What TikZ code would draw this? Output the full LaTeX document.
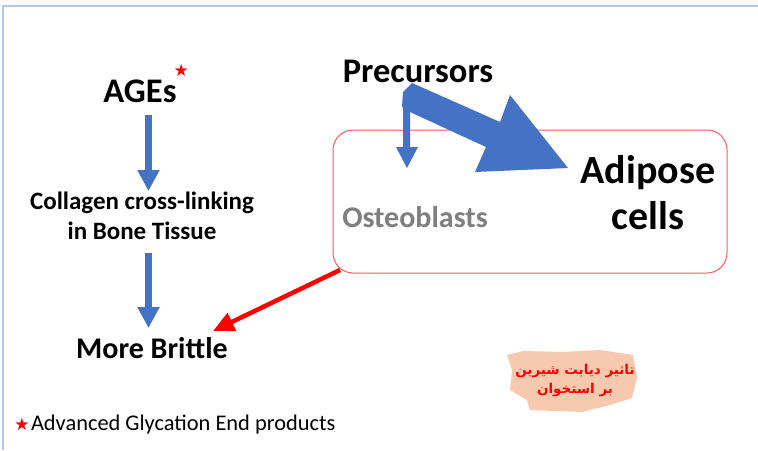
\documentclass[tikz,border=0pt]{standalone}
\usepackage{fontspec}
\setmainfont{Carlito}
\newfontfamily\arabicfont[Script=Arabic]{DejaVu Sans}
\newfontfamily\symfont{DejaVu Sans}
\TeXXeTstate=1
\usetikzlibrary{arrows.meta}
\definecolor{blu}{HTML}{4472C4}
\definecolor{bord}{HTML}{B4C7E7}
\definecolor{boxred}{HTML}{FF5B5B}
\definecolor{peach}{HTML}{F7C9AE}
\definecolor{greytxt}{HTML}{7F7F7F}
\tikzset{
  lbl/.style={inner sep=0pt, outer sep=0pt},
  bluearrow/.style={draw=blu, line width=7pt, -{Triangle[width=21pt,length=21pt]}, fill=blu},
  redarrow/.style={draw=red, line width=4.5pt, -{Triangle[width=19pt,length=21pt]}, fill=red},
  starmark/.style={lbl, text=red, font=\symfont\fontsize{17}{17}\selectfont}
}
\begin{document}
\begin{tikzpicture}[x=1pt,y=-1pt]
\useasboundingbox (0,0) rectangle (758,450);
\fill[white] (0,0) rectangle (758,450);
\draw[bord, line width=1.5pt] (3,450) -- (3,6) -- (758,6);

% left column
\node[lbl, anchor=base, font=\bfseries\fontsize{34.5}{40}\selectfont] (ages) at (140,102) {AGEs};
\node[starmark, anchor=south west] (star1) at ([xshift=-3pt,yshift=3pt]ages.north east) {★};
\node[lbl, align=center, font=\bfseries\fontsize{25}{30}\selectfont] (coll) at (142,216) {Collagen cross-linking\\in Bone Tissue};
\node[lbl, anchor=base, font=\bfseries\fontsize{30}{35}\selectfont] (brittle) at (152,358) {More Brittle};

\coordinate (a1s) at (148.5,115);
\coordinate (a1e) at (148.5,191);
\coordinate (a2s) at (148.5,253);
\coordinate (a2e) at (148.5,328);
\draw[bluearrow] (a1s) -- (a1e);
\draw[bluearrow] (a2s) -- (a2e);

% right box
\node[lbl, draw=boxred, line width=1pt, rounded corners=20pt, minimum width=394pt, minimum height=143pt] (box) at (530,201.5) {};
\node[lbl, anchor=base, font=\bfseries\fontsize{34.5}{40}\selectfont] (prec) at (418,82) {Precursors};
\node[lbl, anchor=base, text=greytxt, font=\bfseries\fontsize{30}{35}\selectfont] (osteo) at (415,227) {Osteoblasts};
\node[lbl, align=center, font=\bfseries\fontsize{40}{46}\selectfont] (adip) at (648,193) {Adipose\\cells};

% big blue arrow and small down arrow
\fill[blu] (403,92) -- (412,83) -- (500,122) -- (510,95) -- (568,168) -- (475,172) -- (486,147) -- (410,112) -- (402,107) -- cycle;
\fill[blu] (403,100) -- (410,100) -- (410,147) -- (418,147) -- (407,168) -- (396,147) -- (403,147) -- cycle;

% red arrow
\coordinate (rs) at (340,270);
\coordinate (re) at (213,331);
\draw[redarrow] (rs) -- (re);

% persian blob
\fill[peach] (507,355) -- (523,351) -- (563,352) -- (600,350) -- (633,355) -- (637,377) -- (632,398) -- (610,405) -- (582,412) -- (530,410) -- (527,400) -- (510,390) -- (512,370) -- cycle;
\node[lbl, align=center, text=red, font=\arabicfont\bfseries\fontsize{13.5}{19}\selectfont] (fa) at (575,381) {\beginR تاثیر دیابت شیرین\endR\\\beginR بر استخوان\endR};

% footnote
\node[starmark] (star2) at (22,424) {★};
\node[lbl, anchor=base west, font=\fontsize{22.4}{26}\selectfont] (foot) at (31,430) {Advanced Glycation End products};
\end{tikzpicture}
\end{document}
